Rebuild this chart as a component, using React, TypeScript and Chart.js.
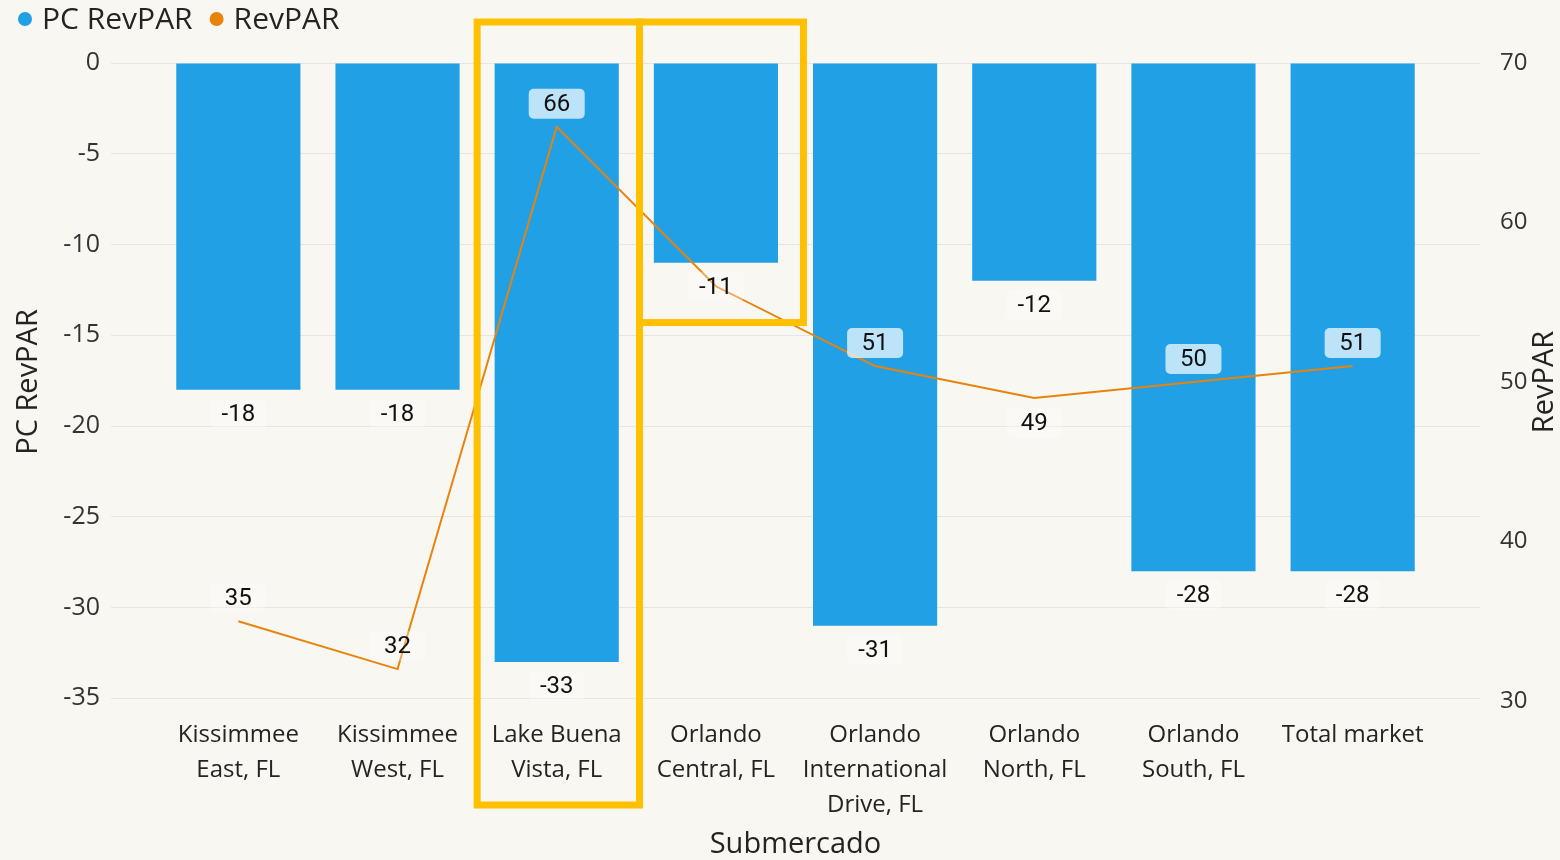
import React, { useEffect, useRef } from "react";
import { Chart, registerables } from "chart.js";

Chart.register(...registerables);

// ---------- data ----------
const categories: string[][] = [
  ["Kissimmee", "East, FL"],
  ["Kissimmee", "West, FL"],
  ["Lake Buena", "Vista, FL"],
  ["Orlando", "Central, FL"],
  ["Orlando", "International", "Drive, FL"],
  ["Orlando", "North, FL"],
  ["Orlando", "South, FL"],
  ["Total market"],
];
const pcRevpar = [-18, -18, -33, -11, -31, -12, -28, -28];
const revpar = [35, 32, 66, 56, 51, 49, 50, 51];
// where each RevPAR data label sits ("none" = hidden by the original)
const revparLabelPlacement = ["above", "above", "above", "none", "above", "below", "above", "above"];
const leftTicks = [0, -5, -10, -15, -20, -25, -30, -35];
const rightTicks = [70, 60, 50, 40, 30];
const seriesNames = ["PC RevPAR", "RevPAR"];
const xTitle = "Submercado";
const leftTitle = "PC RevPAR";
const rightTitle = "RevPAR";
// highlighted categories (index ranges on the x scale)
const highlightFrom = [1.5, 2.52];
const highlightTo = [2.52, 3.55];

// ---------- style ----------
const BG = "rgb(248,247,241)";
const BLUE = "#22A0E6";
const ORANGE = "#E8830C";
const GOLD = "#FFC000";
const TEXT = "#252423";
const UI_FONT = "'Open Sans', 'Noto Sans', sans-serif";
const LABEL_FONT = "Roboto, 'DejaVu Sans', sans-serif";

function drawDataLabel(
  ctx: CanvasRenderingContext2D,
  text: string,
  cx: number,
  cy: number,
  bars: any[]
) {
  ctx.save();
  ctx.font = `24px ${LABEL_FONT}`;
  const w = Math.max(ctx.measureText(text).width + 18, 56);
  const h = 30;
  const onBar = bars.some((b) => {
    const top = Math.min(b.y, b.base);
    const bottom = Math.max(b.y, b.base);
    return Math.abs(cx - b.x) < b.width / 2 && cy > top && cy < bottom;
  });
  ctx.fillStyle = onBar ? "rgba(255,255,255,0.7)" : "rgba(255,255,255,0.3)";
  ctx.beginPath();
  (ctx as any).roundRect(cx - w / 2, cy - h / 2, w, h, 5);
  ctx.fill();
  ctx.fillStyle = "#111";
  ctx.textAlign = "center";
  ctx.textBaseline = "middle";
  ctx.fillText(text, cx, cy + 1);
  ctx.restore();
}

const customPlugin = {
  id: "custom",
  beforeDraw(chart: any) {
    const { ctx, width, height } = chart;
    ctx.save();
    ctx.fillStyle = BG;
    ctx.fillRect(0, 0, width, height);
    ctx.restore();
  },
  afterDatasetsDraw(chart: any) {
    const ctx: CanvasRenderingContext2D = chart.ctx;
    const barMeta = chart.getDatasetMeta(0);
    const lineMeta = chart.getDatasetMeta(1);
    const bars = barMeta.data;
    bars.forEach((el: any, i: number) => {
      drawDataLabel(ctx, String(pcRevpar[i]), el.x, el.y + 24, bars);
    });
    lineMeta.data.forEach((pt: any, i: number) => {
      const place = revparLabelPlacement[i];
      if (place === "none") return;
      const cy = place === "above" ? pt.y - 23 : pt.y + 25;
      drawDataLabel(ctx, String(revpar[i]), pt.x, cy, bars);
    });
  },
  afterDraw(chart: any) {
    const ctx: CanvasRenderingContext2D = chart.ctx;
    const area = chart.chartArea;
    const xs = chart.scales.x;
    const ys = chart.scales.y;

    // legend
    ctx.save();
    ctx.font = `30px ${UI_FONT}`;
    ctx.textBaseline = "middle";
    ctx.textAlign = "left";
    let cursor = 18;
    const colors = [BLUE, ORANGE];
    seriesNames.forEach((name, i) => {
      ctx.fillStyle = colors[i];
      ctx.beginPath();
      ctx.arc(cursor + 7, 19, 7, 0, Math.PI * 2);
      ctx.fill();
      ctx.fillStyle = TEXT;
      ctx.fillText(name, cursor + 24, 20);
      cursor += 24 + ctx.measureText(name).width + 17;
    });
    ctx.restore();

    // right axis title (reads bottom-to-top)
    ctx.save();
    ctx.font = `29px ${UI_FONT}`;
    ctx.fillStyle = TEXT;
    ctx.textAlign = "center";
    ctx.textBaseline = "middle";
    ctx.translate(1545, (area.top + area.bottom) / 2);
    ctx.rotate(-Math.PI / 2);
    ctx.fillText(rightTitle, 0, 0);
    ctx.restore();

    // highlight boxes
    ctx.save();
    ctx.strokeStyle = GOLD;
    ctx.lineWidth = 7;
    const top = area.top - 41;
    const bottoms = [area.bottom + 104, ys.getPixelForValue(-14.3)];
    highlightFrom.forEach((f, i) => {
      const l = xs.getPixelForValue(f);
      const r = xs.getPixelForValue(highlightTo[i]);
      ctx.strokeRect(l, top, r - l, bottoms[i] - top);
    });
    ctx.restore();
  },
};

export default function App() {
  const canvasRef = useRef<HTMLCanvasElement | null>(null);

  useEffect(() => {
    if (!canvasRef.current) return;
    const tickFont = { family: UI_FONT, size: 24, lineHeight: 1.45 };
    const chart = new Chart(canvasRef.current, {
      type: "bar",
      data: {
        datasets: [
          {
            type: "bar",
            label: seriesNames[0],
            data: pcRevpar.map((v, i) => ({ x: i, y: v })),
            backgroundColor: BLUE,
            borderWidth: 0,
            categoryPercentage: 1,
            barPercentage: 0.78,
            yAxisID: "y",
            xAxisID: "x",
            order: 1,
          },
          {
            type: "line",
            label: seriesNames[1],
            data: revpar.map((v, i) => ({ x: i, y: v })),
            borderColor: ORANGE,
            backgroundColor: ORANGE,
            borderWidth: 2,
            pointRadius: 0,
            tension: 0,
            yAxisID: "y2",
            xAxisID: "x",
            order: 0,
          },
        ] as any,
      },
      options: {
        animation: false,
        responsive: true,
        maintainAspectRatio: false,
        layout: { padding: { top: 63, left: 0, right: 0, bottom: 0 } },
        plugins: {
          legend: { display: false },
          tooltip: { enabled: false },
        },
        scales: {
          x: {
            type: "linear",
            bounds: "data",
            offset: false,
            min: -0.8,
            max: 7.8,
            grid: { display: false, offset: false },
            border: { display: false },
            afterBuildTicks: (s: any) => {
              s.ticks = categories.map((_, i) => ({ value: i }));
            },
            afterFit: (s: any) => {
              s.height = 159;
            },
            ticks: {
              autoSkip: false,
              maxRotation: 0,
              minRotation: 0,
              padding: 9,
              color: TEXT,
              font: tickFont,
              callback: (v: any) => categories[v as number] ?? "",
            },
            title: {
              display: true,
              text: xTitle,
              color: TEXT,
              font: { family: UI_FONT, size: 29 },
              padding: { top: 0, bottom: -2 },
            },
          },
          y: {
            type: "linear",
            position: "left",
            bounds: "data",
            min: -35.15,
            max: 0,
            grid: { color: "rgba(0,0,0,0.07)", lineWidth: 1, drawTicks: false },
            border: { display: false },
            afterBuildTicks: (s: any) => {
              s.ticks = leftTicks.map((v) => ({ value: v }));
            },
            afterFit: (s: any) => {
              s.width = 111;
            },
            ticks: {
              padding: 11,
              color: "#333",
              font: { family: UI_FONT, size: 25 },
              callback: (v: any) => String(v),
            },
            title: {
              display: true,
              text: leftTitle,
              color: TEXT,
              font: { family: UI_FONT, size: 29 },
              padding: { top: 11, bottom: 0 },
            },
          },
          y2: {
            type: "linear",
            position: "right",
            bounds: "data",
            min: 30,
            max: 70,
            grid: { display: false, drawOnChartArea: false },
            border: { display: false },
            afterBuildTicks: (s: any) => {
              s.ticks = rightTicks.map((v) => ({ value: v }));
            },
            afterFit: (s: any) => {
              s.width = 80;
            },
            ticks: {
              padding: 12,
              color: "#333",
              font: { family: UI_FONT, size: 24 },
              callback: (v: any) => String(v),
            },
          },
        },
      } as any,
      plugins: [customPlugin],
    });
    return () => chart.destroy();
  }, []);

  return (
    <div style={{ position: "fixed", left: 0, top: 0, width: 1560, height: 860, background: BG }}>
      <canvas ref={canvasRef} />
    </div>
  );
}
